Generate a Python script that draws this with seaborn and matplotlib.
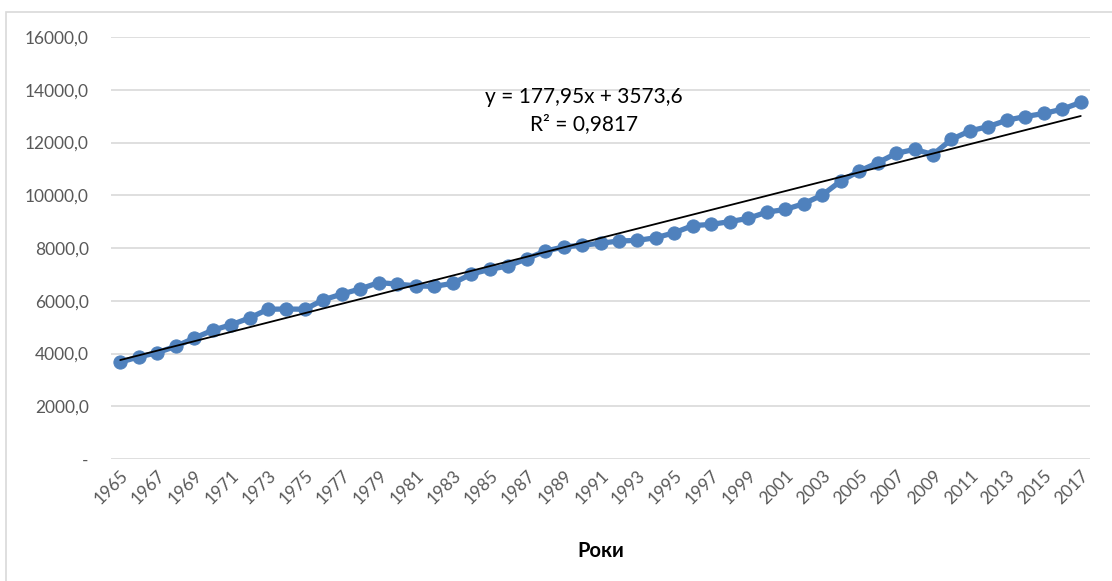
import numpy as np
import pandas as pd
import matplotlib
matplotlib.use('Agg')
import matplotlib.pyplot as plt
import seaborn as sns
from matplotlib.patches import Rectangle

# дані з графіка
years = list(range(1965, 2018))
values = [3674, 3870, 4030, 4270, 4580, 4880, 5090, 5345, 5680, 5685,
          5680, 6035, 6255, 6450, 6690, 6630, 6565, 6545, 6660, 7010,
          7190, 7320, 7590, 7880, 8040, 8105, 8180, 8265, 8290, 8390,
          8580, 8850, 8895, 9000, 9125, 9360, 9460, 9680, 10005, 10535,
          10915, 11230, 11585, 11740, 11545, 12120, 12440, 12605, 12845, 12985,
          13100, 13265, 13520]

# лінія тренду (з графіка)
slope = 177.95
intercept = 3573.6
r2_text = "R² = 0,9817"
eq_text = "y = 177,95x + 3573,6"

yticks = [0, 2000, 4000, 6000, 8000, 10000, 12000, 14000, 16000]

df = pd.DataFrame({'year': years, 'value': values})

sns.set_theme(style='white')
plt.rcParams['font.family'] = ['Lato', 'DejaVu Sans']

fig = plt.figure(figsize=(11.12, 5.81), dpi=100)
ax = fig.add_axes([111 / 1112, 1 - 459 / 581, (1090 - 111) / 1112, (459 - 37) / 581])

# рамка діаграми
fig.patches.append(Rectangle((6 / 1112, -0.01), 1.1, 1 - 12 / 581 + 0.01,
                             transform=fig.transFigure, fill=False,
                             edgecolor='#d9d9d9', linewidth=1.2))

blue = '#4f81bd'
sns.lineplot(data=df, x='year', y='value', ax=ax, color=blue, linewidth=3.8,
             marker='o', markersize=9.5, markeredgecolor=blue, zorder=3)

# тренд
idx = np.arange(1, len(years) + 1)
trend = slope * idx + intercept
ax.plot(years, trend, color='black', linewidth=1.3, zorder=4)

ax.set_xlim(years[0] - 0.5, years[-1] + 0.5)
ax.set_ylim(0, 16000)
ax.set_yticks(yticks)
ax.set_yticklabels(['-' if v == 0 else f'{v},0' for v in yticks])
ax.set_xticks(years[::2])
ax.set_xticklabels([str(y) for y in years[::2]], rotation=45, ha='right',
                   rotation_mode='anchor')
ax.tick_params(axis='both', colors='#595959', labelsize=12.5, length=0)
ax.tick_params(axis='y', pad=16)
ax.tick_params(axis='x', pad=6)

ax.grid(axis='y', color='#d9d9d9', linewidth=1.2)
ax.set_axisbelow(True)
for s in ax.spines.values():
    s.set_visible(False)

ax.set_xlabel('Роки', fontsize=14.5, fontweight='bold', color='black', labelpad=24)
ax.set_ylabel('')

ax.text(0.483, 0.857, eq_text, transform=ax.transAxes, ha='center', va='center',
        fontsize=15, color='black')
ax.text(0.483, 0.793, r2_text, transform=ax.transAxes, ha='center', va='center',
        fontsize=15, color='black')

fig.savefig('out.png', dpi=100)
